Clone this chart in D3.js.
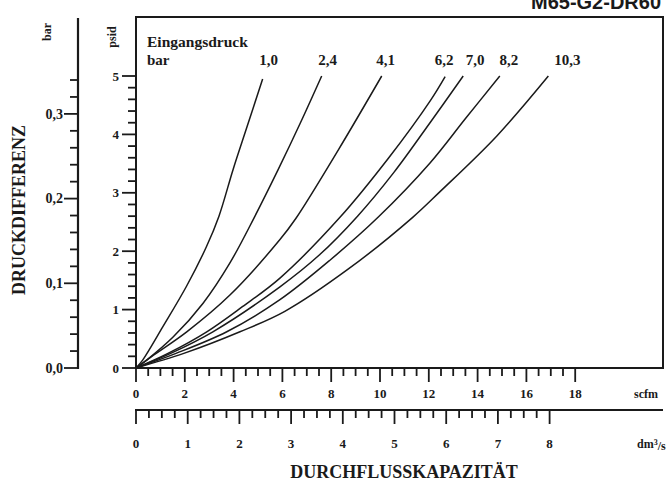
<!DOCTYPE html>
<html><head><meta charset="utf-8">
<script src="https://d3js.org/d3.v7.min.js"></script>
<style>body{margin:0;background:#fff}svg{display:block}</style>
</head><body>
<svg id="c" width="666" height="481"></svg>
<script>
// ---------- data ----------
const inletPressures = ["1,0","2,4","4,1","6,2","7,0","8,2","10,3"];
const curve10  = [[0,0],[0.28,0.14],[1.09,0.7],[2.07,1.4],[2.89,2.08],[3.40,2.6],[3.98,3.4],[4.55,4.13],[5.19,4.95]];
const curve24  = [[0,0],[0.45,0.14],[1.52,0.53],[2.75,1.11],[3.85,1.8],[4.85,2.58],[5.83,3.4],[6.73,4.19],[7.61,5.0]];
const curve41  = [[0,0],[0.65,0.2],[2.08,0.62],[3.85,1.25],[5.90,2.2],[6.55,2.56],[8.30,3.74],[10.07,5.0]];
const curve62  = [[0,0],[1.31,0.25],[2.90,0.62],[4.36,1.05],[5.90,1.54],[8.36,2.58],[10.36,3.6],[12.05,4.57],[12.67,4.99]];
const curve70  = [[0,0],[1.42,0.25],[3.15,0.62],[5.90,1.39],[7.50,1.93],[9.08,2.6],[10.57,3.35],[12.05,4.2],[13.41,5.0]];
const curve82  = [[0,0],[1.64,0.25],[3.72,0.62],[5.90,1.17],[7.96,1.85],[9.92,2.58],[12.05,3.51],[13.52,4.28],[14.91,5.0]];
const curve103 = [[0,0],[1.96,0.25],[4.26,0.62],[6.10,0.97],[8.72,1.7],[11.34,2.58],[12.46,3.02],[14.78,3.97],[16.90,5.0]];
const curves = [curve10, curve24, curve41, curve62, curve70, curve82, curve103];

const psidTicks = [0,1,2,3,4,5];
const barTicks = [0,0.1,0.2,0.3];
const scfmTicks = [0,2,4,6,8,10,12,14,16,18];
const dmTicks = [0,1,2,3,4,5,6,7,8];
const PSI_PER_BAR = 14.5038;
const SCFM_PER_DM3S = 2.11888;

// ---------- layout ----------
const svg = d3.select("#c");
const box = {l:136, t:17, r:663, b:368};
const x = d3.scaleLinear().domain([0,18]).range([box.l, box.l + 18*24.4]);
const y = d3.scaleLinear().domain([0,5]).range([box.b, box.b - 5*58.4]);
const yBar = v => y(v*PSI_PER_BAR);
const xDm = v => x(v*SCFM_PER_DM3S);
const serif = "'Liberation Serif','Times New Roman',serif";
const ink = "#1a1a1a";

// title (cut at top, as in the source)
svg.append("text").attr("x",531).attr("y",9).attr("font-family","'Liberation Sans',Arial,sans-serif")
  .attr("font-weight","bold").attr("font-size",20).attr("fill",ink).text("M65-G2-DR60");

// plot box
svg.append("rect").attr("x",box.l).attr("y",box.t).attr("width",box.r-box.l).attr("height",box.b-box.t)
  .attr("fill","none").attr("stroke",ink).attr("stroke-width",2);

// psid ticks
const psidMinor = d3.range(0,5.001,0.2).map(v=>+v.toFixed(1));
svg.append("g").selectAll("line").data(psidMinor).join("line")
  .attr("x1", d => box.l - (Number.isInteger(d) ? 14 : 8)).attr("x2", box.l)
  .attr("y1", d=>y(d)).attr("y2", d=>y(d)).attr("stroke",ink).attr("stroke-width",1.8);
svg.append("g").selectAll("text").data(psidTicks).join("text")
  .attr("x", box.l-17).attr("y", d=>y(d)).attr("dy","0.35em").attr("text-anchor","end")
  .attr("font-family",serif).attr("font-weight","bold").attr("font-size",13).attr("fill",ink).text(d=>d);
svg.append("text").attr("transform",`translate(116,37) rotate(-90)`).attr("text-anchor","middle")
  .attr("font-family",serif).attr("font-weight","bold").attr("font-size",12).attr("fill",ink).text("psid");

// bar axis
const barX = 78;
svg.append("line").attr("x1",barX).attr("x2",barX).attr("y1",18).attr("y2",box.b+1).attr("stroke",ink).attr("stroke-width",2.2);
const barMinor = d3.range(0,0.3401,0.02).map(v=>+v.toFixed(2));
svg.append("g").selectAll("line").data(barMinor).join("line")
  .attr("x1", d => barX - (Math.abs(d*10-Math.round(d*10))<1e-6 ? 14 : 8)).attr("x2", barX)
  .attr("y1", d=>yBar(d)).attr("y2", d=>yBar(d)).attr("stroke",ink).attr("stroke-width",1.8);
svg.append("g").selectAll("text").data(barTicks).join("text")
  .attr("x", barX-15).attr("y", d=>yBar(d)).attr("dy","0.35em").attr("text-anchor","end")
  .attr("font-family",serif).attr("font-weight","bold").attr("font-size",14).attr("fill",ink)
  .text(d=>d.toFixed(1).replace(".",","));
svg.append("text").attr("transform",`translate(51,32) rotate(-90)`).attr("text-anchor","middle")
  .attr("font-family",serif).attr("font-weight","bold").attr("font-size",12).attr("fill",ink).text("bar");
svg.append("text").attr("transform",`translate(25,210) rotate(-90)`).attr("text-anchor","middle")
  .attr("font-family",serif).attr("font-weight","bold").attr("font-size",18).attr("fill",ink).text("DRUCKDIFFERENZ");

// scfm axis ticks (down from box bottom)
const scfmMinor = d3.range(0,18.001,0.5);
svg.append("g").selectAll("line").data(scfmMinor).join("line")
  .attr("x1", d=>x(d)).attr("x2", d=>x(d)).attr("y1", box.b)
  .attr("y2", d => box.b + (d%2===0 ? 14 : 8)).attr("stroke",ink).attr("stroke-width",1.8);
svg.append("g").selectAll("text").data(scfmTicks).join("text")
  .attr("x", d=>x(d)).attr("y", 393).attr("dy","0.35em").attr("text-anchor","middle")
  .attr("font-family",serif).attr("font-weight","bold").attr("font-size",13).attr("fill",ink).text(d=>d);
svg.append("text").attr("x",634).attr("y",394).attr("dy","0.35em")
  .attr("font-family",serif).attr("font-weight","bold").attr("font-size",12).attr("fill",ink).text("scfm");

// dm3/s axis
const dmY = 410;
svg.append("line").attr("x1",xDm(0)-1).attr("x2",box.r).attr("y1",dmY).attr("y2",dmY).attr("stroke",ink).attr("stroke-width",2.2);
const dmMinor = d3.range(0,8.001,0.25);
svg.append("g").selectAll("line").data(dmMinor).join("line")
  .attr("x1", d=>xDm(d)).attr("x2", d=>xDm(d)).attr("y1", dmY)
  .attr("y2", d => dmY + (Number.isInteger(d) ? 14 : 8)).attr("stroke",ink).attr("stroke-width",1.8);
svg.append("g").selectAll("text").data(dmTicks).join("text")
  .attr("x", d=>xDm(d)).attr("y", 443).attr("dy","0.35em").attr("text-anchor","middle")
  .attr("font-family",serif).attr("font-weight","bold").attr("font-size",13).attr("fill",ink).text(d=>d);
const dmLabel = svg.append("text").attr("x",637).attr("y",444).attr("dy","0.35em")
  .attr("font-family",serif).attr("font-weight","bold").attr("font-size",12).attr("fill",ink);
dmLabel.append("tspan").text("dm");
dmLabel.append("tspan").attr("dy","-0.4em").attr("font-size",8).text("3");
dmLabel.append("tspan").attr("dy","0.4em").text("/s");

svg.append("text").attr("x",404).attr("y",472).attr("dy","0.35em").attr("text-anchor","middle")
  .attr("font-family",serif).attr("font-weight","bold").attr("font-size",18).attr("fill",ink).text("DURCHFLUSSKAPAZITÄT");

// curves
const line = d3.line().x(d=>x(d[0])).y(d=>y(d[1])).curve(d3.curveCatmullRom.alpha(0.5));
svg.append("g").selectAll("path").data(curves).join("path")
  .attr("d", line).attr("fill","none").attr("stroke",ink).attr("stroke-width",1.5);

// legend
svg.append("text").attr("x",147).attr("y",47).attr("font-family",serif).attr("font-weight","bold")
  .attr("font-size",15.5).attr("fill",ink).text("Eingangsdruck");
svg.append("text").attr("x",147).attr("y",65).attr("font-family",serif).attr("font-weight","bold")
  .attr("font-size",15).attr("fill",ink).text("bar");
const labelDx = [6,6,4,-1,12,9,19];
svg.append("g").selectAll("text").data(inletPressures).join("text")
  .attr("x",(d,i)=>x(curves[i][curves[i].length-1][0]) + labelDx[i]).attr("y",65).attr("text-anchor","middle")
  .attr("font-family",serif).attr("font-weight","bold").attr("font-size",15).attr("fill",ink).text(d=>d);
</script>
</body></html>
